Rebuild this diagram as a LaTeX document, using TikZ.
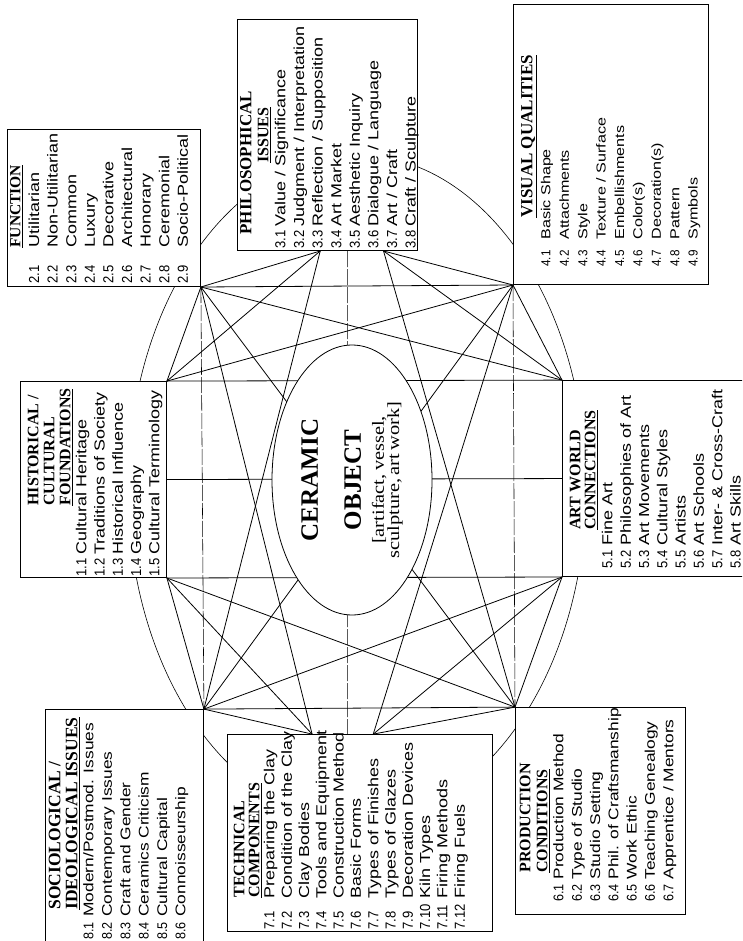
\documentclass[tikz,border=0pt]{standalone}
\usepackage{fontspec}
\setmainfont{Liberation Sans}
\newfontfamily\itemfont{Liberation Sans}[FakeStretch=1.24]
\newfontfamily\numfont{Liberation Sans}[FakeStretch=0.9]
\newfontfamily\headfont{Liberation Serif}
\newfontfamily\midfont{Liberation Serif}[FakeStretch=1.2]
\usetikzlibrary{calc,shapes.geometric}

\newlength\numoff
\newlength\txtoff
% one numbered entry of a panel
\newcommand\itm[2]{\mbox{\makebox[\txtoff][l]{\hspace*{\numoff}{\numfont #1}}#2}}
% heading line of a panel
\newcommand\hd[2][16]{\mbox{\headfont\bfseries\fontsize{#1pt}{18pt}\selectfont #2}}
% panel body: [size] nat. width, nat. height, first baseline, line skip, number offset, text offset, entries
\newcommand\panelbody[8][14.5]{%
  \parbox[c][#3pt][t]{#2pt}{\itemfont\fontsize{#1pt}{#5pt}\selectfont
    \lineskiplimit=-\maxdimen
    \setlength\numoff{#6pt}\setlength\txtoff{#7pt}%
    \rule{0pt}{#4pt}#8}}

\begin{document}
\begin{tikzpicture}[x=1pt, y=-1pt,
  panel/.style={draw, fill=white, rotate=90, anchor=north west, inner sep=0pt,
                line width=0.9pt},
  core/.style={ellipse, draw, fill=white, rotate=90, line width=0.8pt,
               minimum width=270pt, minimum height=160pt, inner sep=0pt,
               text width=170pt, align=center},
  link/.style={line width=0.8pt},
  spine/.style={line width=0.55pt, dash pattern=on 16pt off 2pt},
  rim/.style={line width=0.6pt},
]
  \useasboundingbox (0,0) rectangle (742,941);
  \clip (0,0) rectangle (742,941);

  % outer ring, behind the panels
  \draw[rim] (357,488) ellipse [x radius=229, y radius=333];

  % the eight panels
  \node[panel] (fn) at (7,287) {\panelbody{157}{193}{13}{18.6}{3}{39}{%
    \hspace*{39pt}\hd[15.5]{\underline{FUNCTION}}\\
    \itm{2.1}{Utilitarian}\\ \itm{2.2}{Non-Utilitarian}\\ \itm{2.3}{Common}\\
    \itm{2.4}{Luxury}\\ \itm{2.5}{Decorative}\\ \itm{2.6}{Architectural}\\
    \itm{2.7}{Honorary}\\ \itm{2.8}{Ceremonial}\\ \itm{2.9}{Socio-Political}}};

  \node[panel] (philo) at (237,251) {\panelbody{231}{180}{14}{18.6}{2}{24}{%
    \hspace*{16pt}\hd[17]{PHILOSOPHICAL}\\[-1.6pt]
    \hspace*{\fill}\hd{\underline{ISSUES}}\hspace*{\fill}\\[-1.6pt]
    \itm{3.1}{Value / Significance}\\ \itm{3.2}{Judgment / Interpretation}\\
    \itm{3.3}{Reflection / Supposition}\\ \itm{3.4}{Art Market}\\
    \itm{3.5}{Aesthetic Inquiry}\\ \itm{3.6}{Dialogue / Language}\\
    \itm{3.7}{Art / Craft}\\ \itm{3.8}{Craft / Sculpture}}};

  \node[panel] (vis) at (513,285) {\panelbody[13]{280}{195}{19}{18.4}{18}{45}{%
    \hspace*{67pt}\hd[17]{\underline{VISUAL QUALITIES}}\\[-0.4pt]
    \itm{4.1}{Basic Shape}\\ \itm{4.2}{Attachments}\\ \itm{4.3}{Style}\\
    \itm{4.4}{Texture / Surface}\\ \itm{4.5}{Embellishments}\\ \itm{4.6}{Color(s)}\\
    \itm{4.7}{Decoration(s)}\\ \itm{4.8}{Pattern}\\ \itm{4.9}{Symbols}}};

  \node[panel] (hist) at (20,578) {\panelbody{196}{146}{18}{18.2}{1}{23}{%
    \hspace*{72pt}\hd{HISTORICAL /}\\[-2.2pt]
    \hspace*{72pt}\hd{CULTURAL}\\[-2.2pt]
    \hspace*{72pt}\hd{\underline{FOUNDATIONS}}\\[-2.2pt]
    \itm{1.1}{Cultural Heritage}\\ \itm{1.2}{Traditions of Society}\\
    \itm{1.3}{Historical Influence}\\ \itm{1.4}{Geography}\\
    \itm{1.5}{Cultural Terminology}}};

  \node[panel] (art) at (562,577) {\panelbody{196}{198}{18}{18.3}{8}{31}{%
    \hspace*{47pt}\hd{ART WORLD}\\[-3.3pt]
    \hspace*{47pt}\hd{\underline{CONNECTIONS}}\\[-1.3pt]
    \itm{5.1}{Fine Art}\\ \itm{5.2}{Philosophies of Art}\\ \itm{5.3}{Art Movements}\\
    \itm{5.4}{Cultural Styles}\\ \itm{5.5}{Artists}\\ \itm{5.6}{Art Schools}\\
    \itm{5.7}{Inter- \& Cross-Craft}\\ \itm{5.8}{Art Skills}}};

  \node[panel] (soc) at (45,950) {\panelbody[14]{240}{158}{15}{18.4}{10}{33}{%
    \hspace*{40pt}\hd[17.5]{SOCIOLOGICAL /}\\[-1.4pt]
    \hspace*{40pt}\hd[17.5]{\underline{IDEOLOGICAL ISSUES}}\\[-2.4pt]
    \itm{8.1}{Modern/Postmod. Issues}\\ \itm{8.2}{Contemporary Issues}\\
    \itm{8.3}{Craft and Gender}\\ \itm{8.4}{Ceramics Criticism}\\
    \itm{8.5}{Cultural Capital}\\ \itm{8.6}{Connoisseurship}}};

  \node[panel] (tech) at (227,932) {\panelbody{197}{265}{17}{17.3}{2}{33}{%
    \hspace*{34pt}\hd{TECHNICAL}\\[-2.3pt]
    \hspace*{34pt}\hd{\underline{COMPONENTS}}\\[-2.3pt]
    \itm{7.1}{Preparing the Clay}\\ \itm{7.2}{Condition of the Clay}\\
    \itm{7.3}{Clay Bodies}\\ \itm{7.4}{Tools and Equipment}\\
    \itm{7.5}{Construction Method}\\ \itm{7.6}{Basic Forms}\\
    \itm{7.7}{Types of Finishes}\\ \itm{7.8}{Types of Glazes}\\
    \itm{7.9}{Decoration Devices}\\ \itm{7.10}{Kiln Types}\\
    \itm{7.11}{Firing Methods}\\ \itm{7.12}{Firing Fuels}}};

  \node[panel] (prod) at (515,915) {\panelbody[14]{207}{170}{15}{18.3}{13}{35}{%
    \hspace*{42pt}\hd{PRODUCTION}\\[-1.3pt]
    \hspace*{42pt}\hd{\underline{CONDITIONS}}\\[-2.3pt]
    \itm{6.1}{Production Method}\\ \itm{6.2}{Type of Studio}\\
    \itm{6.3}{Studio Setting}\\ \itm{6.4}{Phil. of Craftsmanship}\\
    \itm{6.5}{Work Ethic}\\ \itm{6.6}{Teaching Genealogy}\\
    \itm{6.7}{Apprentice / Mentors}}};

  % where the links meet the panels
  \coordinate (f)  at (fn.south west);
  \coordinate (p1) at ($(philo.north west)!0.46!(philo.south west)$);
  \coordinate (pm) at ($(philo.north west)!0.61!(philo.south west)$);
  \coordinate (p2) at ($(philo.north west)!0.81!(philo.south west)$);
  \coordinate (v)  at (vis.north west);
  \coordinate (h1) at (hist.south east);
  \coordinate (hm) at (hist.south);
  \coordinate (h2) at (hist.south west);
  \coordinate (a1) at (art.north east);
  \coordinate (am) at (art.north);
  \coordinate (a2) at (art.north west);
  \coordinate (s)  at (soc.south east);
  \coordinate (t1) at ($(tech.north east)!0.32!(tech.south east)$);
  \coordinate (tm) at ($(tech.north east)!0.453!(tech.south east)$);
  \coordinate (t2) at ($(tech.north east)!0.55!(tech.south east)$);
  \coordinate (r)  at (prod.north east);

  % every panel tied to every other one
  \foreach \a/\b in {f/h1, f/p1, f/v, f/a1, f/r, f/t1,
                     p1/h1, p1/s, p2/v, p2/a1, p2/r,
                     v/a1, v/h1, v/t2, v/s,
                     h1/a1, hm/am, h2/a2, h2/s, h2/t1, h2/r,
                     a2/r, a2/t2, a2/s,
                     s/t1, s/r, t2/r}
    \draw[link] (\a) -- (\b);
  \foreach \a/\b in {f/s, v/r, pm/tm}
    \draw[spine] (\a) -- (\b);

  % the object in the middle
  \node[core] (obj) at (352,480) {\vspace*{18pt}%
    \headfont\bfseries\fontsize{25pt}{25pt}\selectfont CERAMIC\\ OBJECT\par
    \vspace{8pt}\midfont\mdseries\fontsize{17pt}{15pt}\selectfont
    {[}artifact, vessel,\\ sculpture, art work{]}};
\end{tikzpicture}
\end{document}
